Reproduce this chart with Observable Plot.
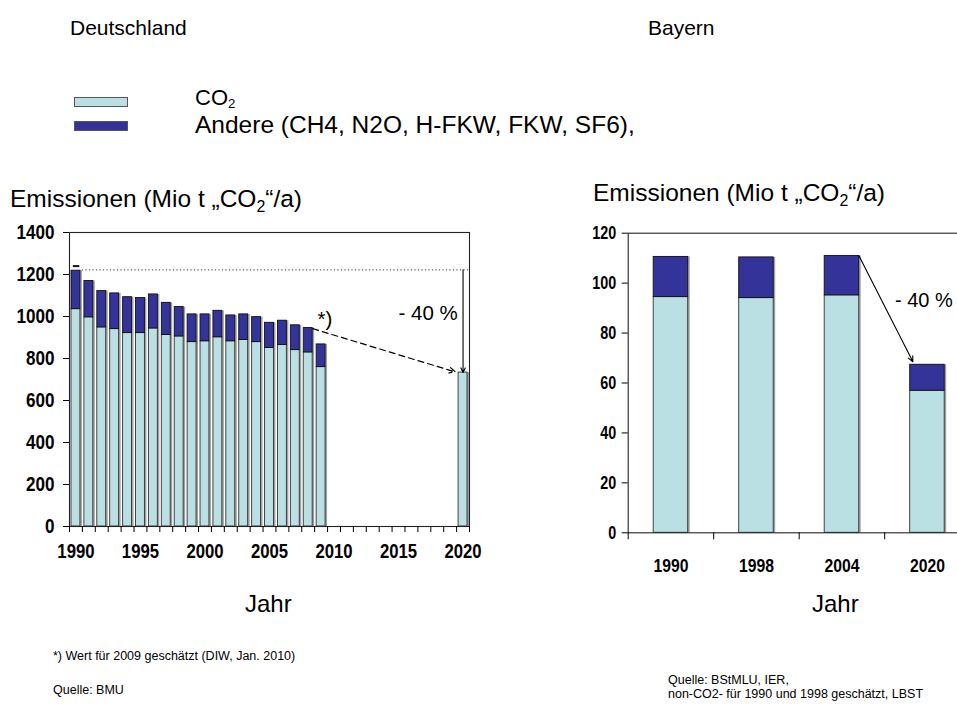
<!DOCTYPE html>
<html>
<head>
<meta charset="utf-8">
<script src="https://cdn.jsdelivr.net/npm/d3@7"></script>
<script src="https://cdn.jsdelivr.net/npm/@observablehq/plot@0.6"></script>
<style>
  html, body { margin: 0; padding: 0; background: #fff; }
  body { width: 957px; height: 710px; position: relative; overflow: hidden;
         font-family: "Liberation Sans", Arial, sans-serif; color: #000; }
  .t { position: absolute; white-space: nowrap; line-height: 1; }
  .sw { position: absolute; width: 52px; height: 8px; border: 1px solid #555; }
  sub { font-size: 0.65em; vertical-align: baseline; position: relative; top: 0.3em; line-height: 0; }
  .lg sub { font-size: 0.6em; top: 0.2em; }
  .plot { position: absolute; }
  .plot svg { max-width: none !important; }
</style>
</head>
<body>
<div class="t" style="left:70px; top:17px; font-size:21px;">Deutschland</div>
<div class="t" style="left:648px; top:17px; font-size:21px;">Bayern</div>

<div class="sw" style="left:74px; top:97px; background:#BBE0E3;"></div>
<div class="sw" style="left:74px; top:121px; background:#333399;"></div>
<div class="t lg" style="left:195px; top:87px; font-size:22px;">CO<sub>2</sub></div>
<div class="t" style="left:195px; top:113px; font-size:24.5px;">Andere (CH4, N2O, H-FKW, FKW, SF6),</div>

<div class="t" style="left:10px; top:187px; font-size:24.5px;">Emissionen (Mio t „CO<sub>2</sub>“/a)</div>
<div class="t" style="left:593px; top:181px; font-size:24.5px;">Emissionen (Mio t „CO<sub>2</sub>“/a)</div>

<div id="left" class="plot" style="left:0px; top:220px; width:490px; height:360px;"></div>
<div id="right" class="plot" style="left:560px; top:220px; width:420px; height:360px;"></div>

<div class="t" style="left:245px; top:592px; font-size:24px;">Jahr</div>
<div class="t" style="left:812px; top:592px; font-size:24px;">Jahr</div>

<div class="t" style="left:53px; top:650px; font-size:12.5px;">*) Wert für 2009 geschätzt (DIW, Jan. 2010)</div>
<div class="t" style="left:53px; top:684px; font-size:12.5px;">Quelle: BMU</div>
<div class="t" style="left:668px; top:674px; font-size:12.5px;">Quelle: BStMLU, IER,</div>
<div class="t" style="left:668px; top:688px; font-size:12.5px;">non-CO2- für 1990 und 1998 geschätzt, LBST</div>

<script>
// ---- Deutschland data (Mio t CO2-Äquivalent) ----
const yearsDE = [1990,1991,1992,1993,1994,1995,1996,1997,1998,1999,2000,2001,2002,2003,2004,2005,2006,2007,2008,2009];
const co2DE = [1035,996,948,940,921,921,943,912,905,878,882,901,882,888,878,850,864,840,829,759];
const andereDE = [183,173,173,170,171,167,162,153,140,132,128,126,123,122,119,120,116,118,116,108];
const targetYearDE = [2020];
const targetDE = [733];
const yTicksDE = [0,200,400,600,800,1000,1200,1400];
const xLabelYearsDE = [1990,1995,2000,2005,2010,2015,2020];
const baseLevelDE = [1222];

// ---- Bayern data ----
const catsBY = ["1990","1998","2004","2020"];
const co2BY = [94.4,94.0,95.1,56.9];
const andereBY = [16.1,16.3,15.8,10.4];
const yTicksBY = [0,20,40,60,80,100,120];

// ---- annotation texts ----
const labelDE = ["- 40 %"];
const starLabel = ["*)"];
const labelBY = ["- 40 %"];

const LIGHT = "#BBE0E3";
const DARK = "#333399";
const REG = "'Liberation Sans', Arial, sans-serif";

const dataDE = yearsDE.map((y, i) => ({year: y, co2: co2DE[i], andere: andereDE[i]}));
const tgtDE = targetYearDE.map((y, i) => ({year: y, co2: targetDE[i]}));
const boundariesDE = d3.range(yearsDE[0] - 0.5, targetYearDE[0] + 1, 1);

// condense bold tick labels (Arial Narrow look)
function condense(svg, axis, perChar, size) {
  d3.select(svg).selectAll(`g[aria-label='${axis}-axis tick label'] text`).each(function () {
    const s = this.textContent;
    if (!s) return;
    this.setAttribute("font-size", size);
    this.setAttribute("font-family", REG);
    this.setAttribute("font-weight", "bold");
    this.setAttribute("textLength", s.length * perChar);
    this.setAttribute("lengthAdjust", "spacingAndGlyphs");
  });
}

const left = Plot.plot({
  width: 490, height: 360,
  marginLeft: 69, marginRight: 21, marginTop: 12, marginBottom: 54,
  x: {domain: [yearsDE[0] - 0.5, targetYearDE[0] + 0.5]},
  y: {domain: [0, 1400]},
  style: {fontFamily: REG, fontSize: "21px", fontWeight: "bold", color: "#000", background: "transparent", overflow: "visible"},
  marks: [
    Plot.rectY(dataDE, {x1: d => d.year - 0.5, x2: d => d.year + 0.5, y1: 0, y2: d => d.co2 + d.andere, insetLeft: 2, insetRight: 2, dx: 2, fill: "#a0a0a0"}),
    Plot.rectY(tgtDE, {x1: d => d.year - 0.5, x2: d => d.year + 0.5, y1: 0, y2: "co2", insetLeft: 2, insetRight: 2, dx: 2, fill: "#a0a0a0"}),
    Plot.rectY(dataDE, {x1: d => d.year - 0.5, x2: d => d.year + 0.5, y1: 0, y2: "co2", insetLeft: 2, insetRight: 2, fill: LIGHT, stroke: "#333", strokeWidth: 0.9}),
    Plot.rectY(dataDE, {x1: d => d.year - 0.5, x2: d => d.year + 0.5, y1: "co2", y2: d => d.co2 + d.andere, insetLeft: 2, insetRight: 2, fill: DARK, stroke: "#111", strokeWidth: 0.9}),
    Plot.rectY(tgtDE, {x1: d => d.year - 0.5, x2: d => d.year + 0.5, y1: 0, y2: "co2", insetLeft: 2, insetRight: 2, fill: LIGHT, stroke: "#333", strokeWidth: 0.9}),
    Plot.ruleY(baseLevelDE, {x1: yearsDE[0] + 0.5, x2: targetYearDE[0] + 0.5, stroke: "#333", strokeDasharray: "1.2,2.3"}),
    Plot.ruleY([baseLevelDE[0] + 18], {x1: yearsDE[0] - 0.2, x2: yearsDE[0] + 0.3, stroke: "#111", strokeWidth: 2}),
    Plot.arrow([{x: targetYearDE[0], y1: baseLevelDE[0], y2: targetDE[0]}], {x1: "x", x2: "x", y1: "y1", y2: "y2", stroke: "#000", strokeWidth: 1.1, headLength: 7, headAngle: 50}),
    Plot.arrow([{x1: 2008.35, y1: 942, x2: 2019.4, y2: 736}], {x1: "x1", y1: "y1", x2: "x2", y2: "y2", stroke: "#000", strokeWidth: 1.2, strokeDasharray: "6,4", headLength: 8, headAngle: 50}),
    Plot.text(labelDE, {x: 2017.3, y: 1013, text: d => d, fontFamily: REG, fontWeight: "normal", fontSize: 20.5}),
    Plot.text(starLabel, {x: 2009.3, y: 985, text: d => d, fontFamily: REG, fontWeight: "normal", fontSize: 20.5}),
    Plot.frame({stroke: "#222", strokeWidth: 1.1}),
    Plot.axisY({ticks: yTicksDE, tickSize: 6, tickPadding: 9, label: null, tickFormat: d => String(d)}),
    Plot.axisX(boundariesDE, {tickSize: 6, tickFormat: () => "", label: null}),
    Plot.axisX(xLabelYearsDE, {tickSize: 0, tickPadding: 17, tickFormat: d => String(d), label: null})
  ]
});
left.style.maxWidth = "none";
condense(left, "y", 9.5, 21);
condense(left, "x", 9.3, 21);
document.getElementById("left").append(left);

const dataBY = catsBY.map((c, i) => ({cat: c, i, co2: co2BY[i], andere: andereBY[i]}));
const right = Plot.plot({
  width: 420, height: 360,
  marginLeft: 67.7, marginRight: 10.3, marginTop: 12.7, marginBottom: 47.7,
  x: {domain: [0, catsBY.length]},
  y: {domain: [0, 120]},
  style: {fontFamily: REG, fontSize: "18px", fontWeight: "bold", color: "#000", background: "transparent", overflow: "visible"},
  marks: [
    Plot.rectY(dataBY, {x1: "i", x2: d => d.i + 1, y1: 0, y2: d => d.co2 + d.andere, insetLeft: 25.5, insetRight: 25.5, dx: 2, fill: "#a0a0a0"}),
    Plot.rectY(dataBY, {x1: "i", x2: d => d.i + 1, y1: 0, y2: "co2", insetLeft: 25.5, insetRight: 25.5, fill: LIGHT, stroke: "#333", strokeWidth: 0.9}),
    Plot.rectY(dataBY, {x1: "i", x2: d => d.i + 1, y1: "co2", y2: d => d.co2 + d.andere, insetLeft: 25.5, insetRight: 25.5, fill: DARK, stroke: "#111", strokeWidth: 0.9}),
    Plot.arrow([{x1: 2.7, y1: 110.9, x2: 3.33, y2: 68.5}], {x1: "x1", y1: "y1", x2: "x2", y2: "y2", stroke: "#000", strokeWidth: 1.1, headLength: 8, headAngle: 50}),
    Plot.text(labelBY, {x: 3.12, y: 93, text: d => d, textAnchor: "start", fontFamily: REG, fontWeight: "normal", fontSize: 20}),
    Plot.frame({stroke: "#222", strokeWidth: 1.1}),
    Plot.axisY({ticks: yTicksBY, tickSize: 6, tickPadding: 6, label: null, tickFormat: d => String(d)}),
    Plot.axisX(d3.range(catsBY.length + 1), {tickSize: 7, tickFormat: () => "", label: null}),
    Plot.axisX(d3.range(catsBY.length).map(i => i + 0.5), {tickSize: 0, tickPadding: 26, tickFormat: d => catsBY[Math.floor(d)], label: null})
  ]
});
right.style.maxWidth = "none";
condense(right, "y", 8, 18);
condense(right, "x", 8.75, 18);
document.getElementById("right").append(right);
</script>
</body>
</html>
